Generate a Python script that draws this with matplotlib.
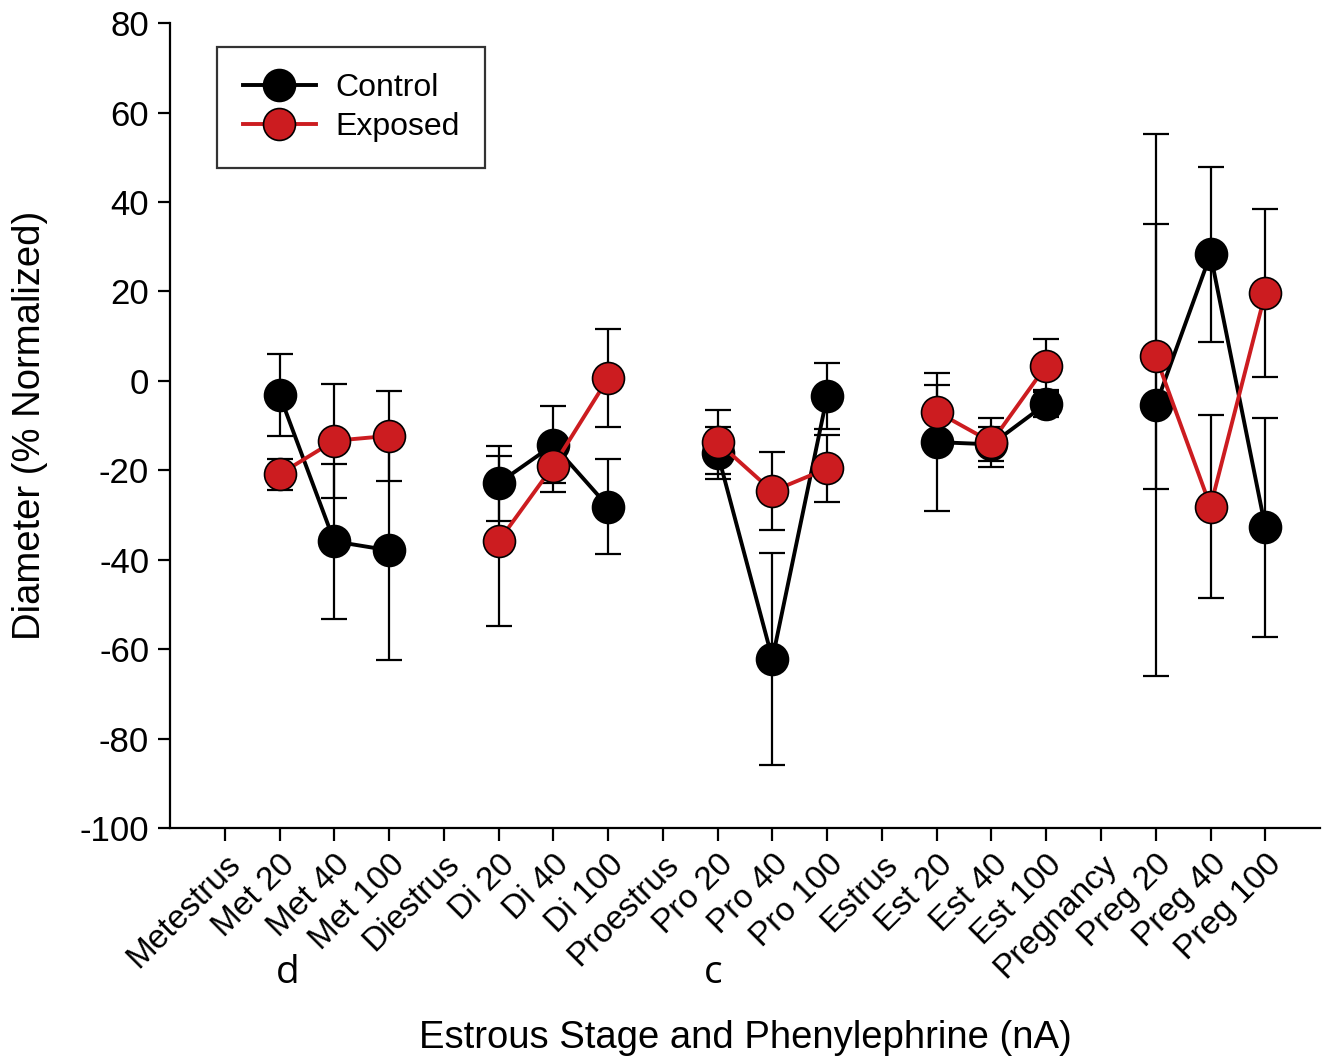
import numpy as np
import matplotlib
matplotlib.use("Agg")
import matplotlib.pyplot as plt

plt.rcParams['font.family'] = ['Liberation Sans', 'DejaVu Sans']
plt.rcParams['axes.unicode_minus'] = False

labels = ["Metestrus", "Met 20", "Met 40", "Met 100",
          "Diestrus", "Di 20", "Di 40", "Di 100",
          "Proestrus", "Pro 20", "Pro 40", "Pro 100",
          "Estrus", "Est 20", "Est 40", "Est 100",
          "Pregnancy", "Preg 20", "Preg 40", "Preg 100"]

nan = np.nan
control = [nan, -3.1, -35.9, -37.9,
           nan, -22.9, -14.3, -28.1,
           nan, -16.2, -62.2, -3.4,
           nan, -13.7, -14.2, -5.1,
           nan, -5.5, 28.3, -32.7]
control_err = [nan, 9.2, 17.3, 24.5,
               nan, 8.4, 8.6, 10.6,
               nan, 5.8, 23.6, 7.4,
               nan, 15.5, 3.8, 3.0,
               nan, 60.6, 19.5, 24.5]

exposed = [nan, -20.9, -13.4, -12.3,
           nan, -35.9, -19.0, 0.6,
           nan, -13.7, -24.7, -19.6,
           nan, -6.9, -13.7, 3.4,
           nan, 5.5, -28.1, 19.6]
exposed_err = [nan, 3.5, 12.8, 10.1,
               nan, 19.0, 5.8, 11.0,
               nan, 7.2, 8.7, 7.4,
               nan, 6.0, 5.5, 5.9,
               nan, 29.6, 20.5, 18.8]

sig_letters = [("d", 1.15), ("c", 8.92)]

x = np.arange(len(labels))
red = "#CC1C20"

fig = plt.figure(figsize=(13.28, 10.61), dpi=100)
ax = fig.add_axes([0.128, 0.2196, 0.866, 0.7586])

# error bars first, all black
ax.errorbar(x, control, yerr=control_err, fmt="none", ecolor="black",
            elinewidth=1.6, capsize=9.5, capthick=1.6, zorder=2)
ax.errorbar(x, exposed, yerr=exposed_err, fmt="none", ecolor="black",
            elinewidth=1.6, capsize=9.5, capthick=1.6, zorder=2)
ax.plot(x, control, color="black", lw=2.8, marker="o", markersize=23,
        markerfacecolor="black", markeredgecolor="black", markeredgewidth=1.2,
        label="Control", zorder=3)
ax.plot(x, exposed, color=red, lw=2.8, marker="o", markersize=23,
        markerfacecolor=red, markeredgecolor="black", markeredgewidth=1.2,
        label="Exposed", zorder=4)

ax.set_xlim(-1, 20)
ax.set_ylim(-100, 80)
ax.set_yticks(np.arange(-100, 81, 20))
ax.set_xticks(x)
ax.set_xticklabels(labels, rotation=45, ha="right", rotation_mode="anchor")

for side in ["top", "right"]:
    ax.spines[side].set_visible(False)
for side in ["left", "bottom"]:
    ax.spines[side].set_linewidth(1.6)
ax.tick_params(direction="out", length=9, width=1.6, labelsize=24, pad=6)
ax.tick_params(axis="y", labelsize=25)

ax.set_ylabel("Diameter (% Normalized)", fontsize=27.5)
ax.yaxis.set_label_coords(-0.106, 0.5)
ax.set_xlabel("Estrous Stage and Phenylephrine (nA)", fontsize=27.5)
ax.xaxis.set_label_coords(0.5, -0.238)

for letter, xp in sig_letters:
    ax.text(xp, -0.18, letter, transform=ax.get_xaxis_transform(),
            fontsize=28, ha="center", va="center",
            family=["Open Sans", "DejaVu Sans"])

leg = ax.legend(loc="upper left", bbox_to_anchor=(0.041, 0.97), fontsize=23,
                frameon=True, fancybox=False, edgecolor="black",
                borderpad=0.8, borderaxespad=0, handlelength=2.3,
                labelspacing=0.3, handletextpad=0.6, markerscale=1.0)
leg.get_frame().set_linewidth(1.6)

plt.savefig("out.png", dpi=100)
